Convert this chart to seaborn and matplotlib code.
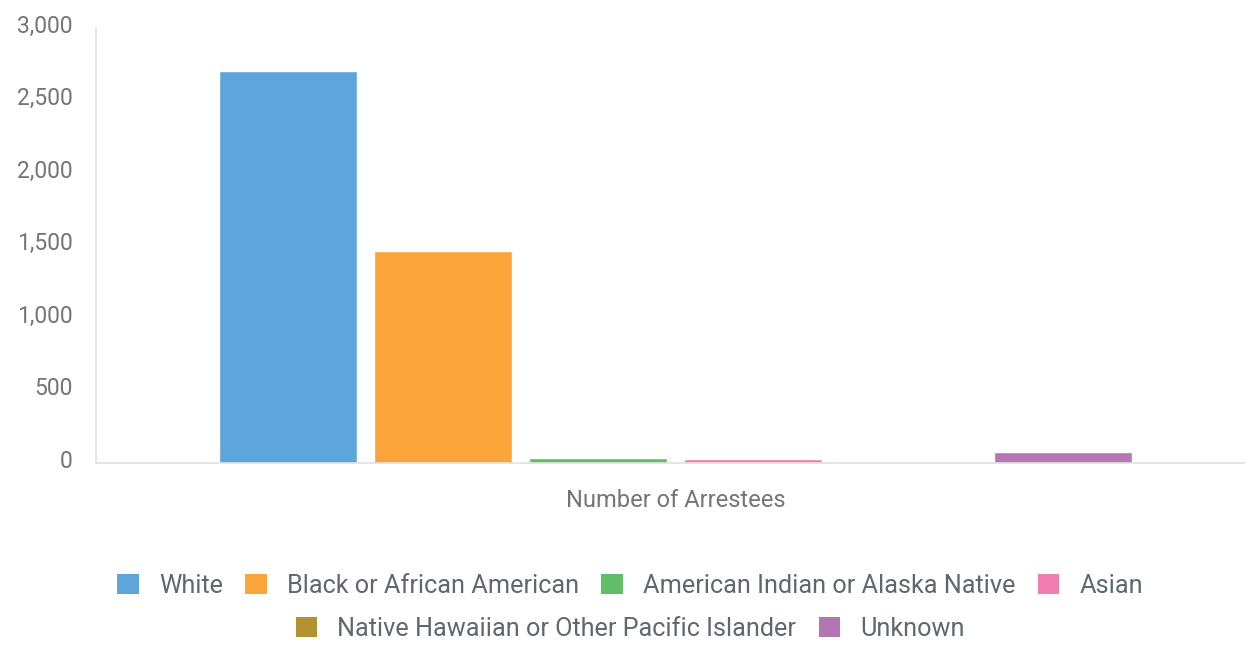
import pandas as pd
import seaborn as sns
import matplotlib.pyplot as plt
from matplotlib.patches import Patch
from matplotlib.transforms import ScaledTranslation

# Values
category = ["Number of Arrestees"]
races = ["White", "Black or African American", "American Indian or Alaska Native",
         "Asian", "Native Hawaiian or Other Pacific Islander", "Unknown"]
arrestees = [2700, 1460, 30, 25, 0, 72]
colors = ["#5DA5DA", "#FAA43A", "#60BD68", "#F17CB0", "#B2912F", "#B276B2"]

df = pd.DataFrame({"metric": category * len(races), "race": races, "count": arrestees})

sns.set_style("white")
plt.rcParams["font.family"] = ["Roboto", "DejaVu Sans"]

fig, ax = plt.subplots(figsize=(12.48, 6.5), dpi=100)
fig.subplots_adjust(left=0.077, right=0.997, top=0.957, bottom=0.288)

sns.barplot(data=df, x="metric", y="count", hue="race", hue_order=races,
            palette=colors, width=0.81, gap=0.11, saturation=1, ax=ax, legend=False)

ax.set_ylim(0, 3000)
ax.set_yticks([0, 500, 1000, 1500, 2000, 2500, 3000])
ax.yaxis.set_major_formatter(plt.FuncFormatter(lambda v, p: f"{int(v):,}"))
ax.set_xlim(-0.505, 0.495)
ax.set_xlabel("")
ax.set_ylabel("")
ax.tick_params(axis="y", length=0, pad=17, labelsize=16.5, labelcolor="#757575")
ax.tick_params(axis="x", length=0, pad=19, labelsize=17, labelcolor="#757575")

# nudge y labels up a little like the original
shift = ScaledTranslation(0, 3 / 72, fig.dpi_scale_trans)
for lbl in ax.get_yticklabels():
    lbl.set_transform(lbl.get_transform() + shift)

for side in ["top", "right"]:
    ax.spines[side].set_visible(False)
for side in ["left", "bottom"]:
    ax.spines[side].set_color("#e0e0e0")
    ax.spines[side].set_linewidth(1.2)

handles = [Patch(facecolor=c, edgecolor="none") for c in colors]
leg_kw = dict(frameon=False, fontsize=18.2, labelcolor="#5f6770", handlelength=0.85,
              handleheight=0.85, handletextpad=0.8, columnspacing=0.88, borderpad=0)
fig.legend(handles[:4], races[:4], loc="center", ncol=4,
           bbox_to_anchor=(0.505, 1 - 586 / 650), **leg_kw)
fig.legend(handles[4:], races[4:], loc="center", ncol=2,
           bbox_to_anchor=(0.505, 1 - 629 / 650), **leg_kw)

fig.savefig("out.png", dpi=100)
